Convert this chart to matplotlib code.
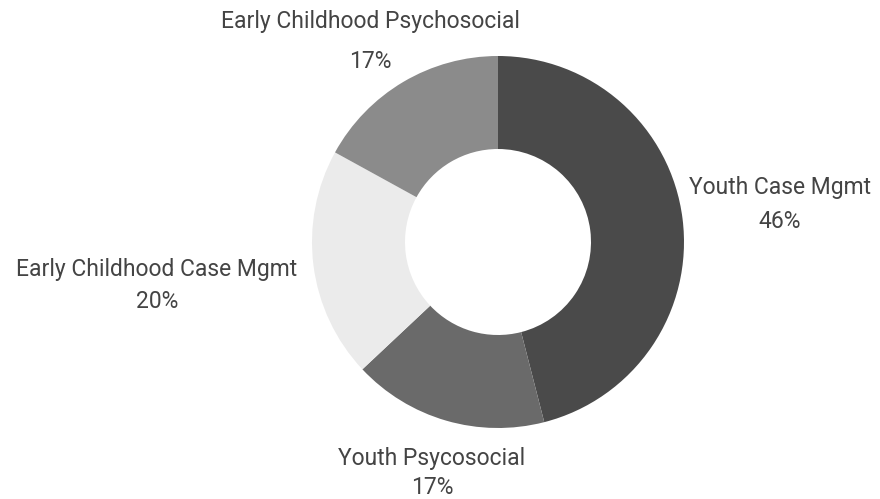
import matplotlib
matplotlib.use("Agg")
import matplotlib.pyplot as plt

# data
labels = ["Youth Case Mgmt", "Youth Psycosocial",
          "Early Childhood Case Mgmt", "Early Childhood Psychosocial"]
shares = [46, 17, 20, 17]
colors = ["#4a4a4a", "#6a6a6a", "#ebebeb", "#8b8b8b"]

plt.rcParams['font.family'] = ['Roboto', 'DejaVu Sans']

W, H = 880, 499
cx, cy, R = 498, 242, 186  # donut centre / radius in pixels


def to_data(px, py):
    return (px - cx) / R, (cy - py) / R


fig = plt.figure(figsize=(W / 100, H / 100), dpi=100)
ax = fig.add_axes([0, 0, 1, 1])
ax.pie(shares, colors=colors, startangle=90, counterclock=False,
       radius=1, wedgeprops=dict(width=0.5, edgecolor="none"))
ax.set_xlim(-cx / R, (W - cx) / R)
ax.set_ylim(-(H - cy) / R, cy / R)
ax.set_aspect("auto")
ax.axis("off")

# label positions (pixel centres of name line and percent line)
label_pos = [((780, 188), (780, 222)),
             ((432, 458), (432, 488)),
             ((157, 270), (157, 302)),
             ((370, 22), (370, 62))]

for name, val, (p1, p2) in zip(labels, shares, label_pos):
    ax.text(*to_data(*p1), name, ha="center", va="center",
            fontsize=16.5, color="#444444")
    ax.text(*to_data(*p2), f"{val}%", ha="center", va="center",
            fontsize=16.5, color="#444444")

fig.savefig("out.png", dpi=100, facecolor="white")
